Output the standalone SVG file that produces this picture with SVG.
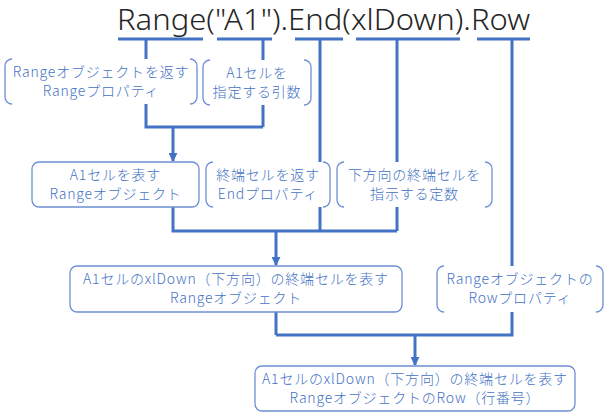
<svg xmlns="http://www.w3.org/2000/svg" width="610" height="420" viewBox="0 0 610 420">
<defs>
<style>
.c{fill:none;stroke:#4472C4;stroke-width:3}
.b{fill:#fff;stroke:#6D8FD3;stroke-width:1.3}
.br{fill:none;stroke:#6D8FD3;stroke-width:1.3}
.bg{fill:#fff;stroke:none}
.t{font-family:"Noto Sans CJK JP","Noto Sans",sans-serif;font-size:14px;font-weight:300;fill:#4472C4;text-anchor:middle;letter-spacing:0.8px}
.code{font-family:"Noto Sans","DejaVu Sans",sans-serif;font-size:29px;font-weight:300;fill:#262626}
</style>
<marker id="ah" viewBox="0 0 10 10" refX="9" refY="5" markerWidth="3" markerHeight="3" orient="auto">
<path d="M0,0 L10,5 L0,10 Z" fill="#4472C4"/>
</marker>
</defs>
<rect width="610" height="420" fill="#fff"/>
<text class="code" x="117" y="30" textLength="413" lengthAdjust="spacingAndGlyphs">Range("A1").End(xlDown).Row</text>
<g id="connectors">
<path class="c" d="M118,39 H203 M217,39 H272 M295,39 H343 M356,39 H460 M477,39 H530"/>
<path class="c" d="M146,39 V127 H263 M263,39 V127"/>
<path class="c" d="M173,127 V161" marker-end="url(#ah)"/>
<path class="c" d="M320,39 V231 M397,39 V231 M173,207 V231 H397"/>
<path class="c" d="M276,231 V265" marker-end="url(#ah)"/>
<path class="c" d="M512,39 V335 H276 M276,312 V335"/>
<path class="c" d="M415,335 V365" marker-end="url(#ah)"/>
</g>
<g id="n1">
<rect class="bg" x="5" y="59" width="192" height="45"/>
<path class="br" d="M12,59 A7,7 0 0 0 5,66 V97 A7,7 0 0 0 12,104 M190,59 A7,7 0 0 1 197,66 V97 A7,7 0 0 1 190,104"/>
<text class="t" x="101" y="77">Rangeオブジェクトを返す</text>
<text class="t" x="101" y="96">Rangeプロパティ</text>
</g>
<g id="n2">
<rect class="bg" x="203" y="60" width="108" height="45"/>
<path class="br" d="M210,60 A7,7 0 0 0 203,67 V98 A7,7 0 0 0 210,105 M304,60 A7,7 0 0 1 311,67 V98 A7,7 0 0 1 304,105"/>
<text class="t" x="257" y="78">A1セルを</text>
<text class="t" x="257" y="97">指定する引数</text>
</g>
<g id="n3">
<rect class="b" x="32" y="162" width="167" height="45" rx="7"/>
<text class="t" x="115.5" y="180">A1セルを表す</text>
<text class="t" x="115.5" y="199">Rangeオブジェクト</text>
</g>
<g id="n4">
<rect class="bg" x="206" y="162" width="124" height="45"/>
<path class="br" d="M213,162 A7,7 0 0 0 206,169 V200 A7,7 0 0 0 213,207 M323,162 A7,7 0 0 1 330,169 V200 A7,7 0 0 1 323,207"/>
<text class="t" x="268" y="180">終端セルを返す</text>
<text class="t" x="268" y="199">Endプロパティ</text>
</g>
<g id="n5">
<rect class="bg" x="337" y="162" width="155" height="45"/>
<path class="br" d="M344,162 A7,7 0 0 0 337,169 V200 A7,7 0 0 0 344,207 M485,162 A7,7 0 0 1 492,169 V200 A7,7 0 0 1 485,207"/>
<text class="t" x="414.5" y="180">下方向の終端セルを</text>
<text class="t" x="414.5" y="199">指示する定数</text>
</g>
<g id="n6">
<rect class="b" x="70" y="266" width="332" height="46" rx="7"/>
<text class="t" x="236" y="284">A1セルのxlDown（下方向）の終端セルを表す</text>
<text class="t" x="236" y="303">Rangeオブジェクト</text>
</g>
<g id="n7">
<rect class="bg" x="437" y="266" width="166" height="46"/>
<path class="br" d="M444,266 A7,7 0 0 0 437,273 V305 A7,7 0 0 0 444,312 M596,266 A7,7 0 0 1 603,273 V305 A7,7 0 0 1 596,312"/>
<text class="t" x="520" y="284">Rangeオブジェクトの</text>
<text class="t" x="520" y="303">Rowプロパティ</text>
</g>
<g id="n8">
<rect class="b" x="255" y="366" width="320" height="45" rx="7"/>
<text class="t" x="415" y="384">A1セルのxlDown（下方向）の終端セルを表す</text>
<text class="t" x="415" y="403">RangeオブジェクトのRow（行番号）</text>
</g>
</svg>
